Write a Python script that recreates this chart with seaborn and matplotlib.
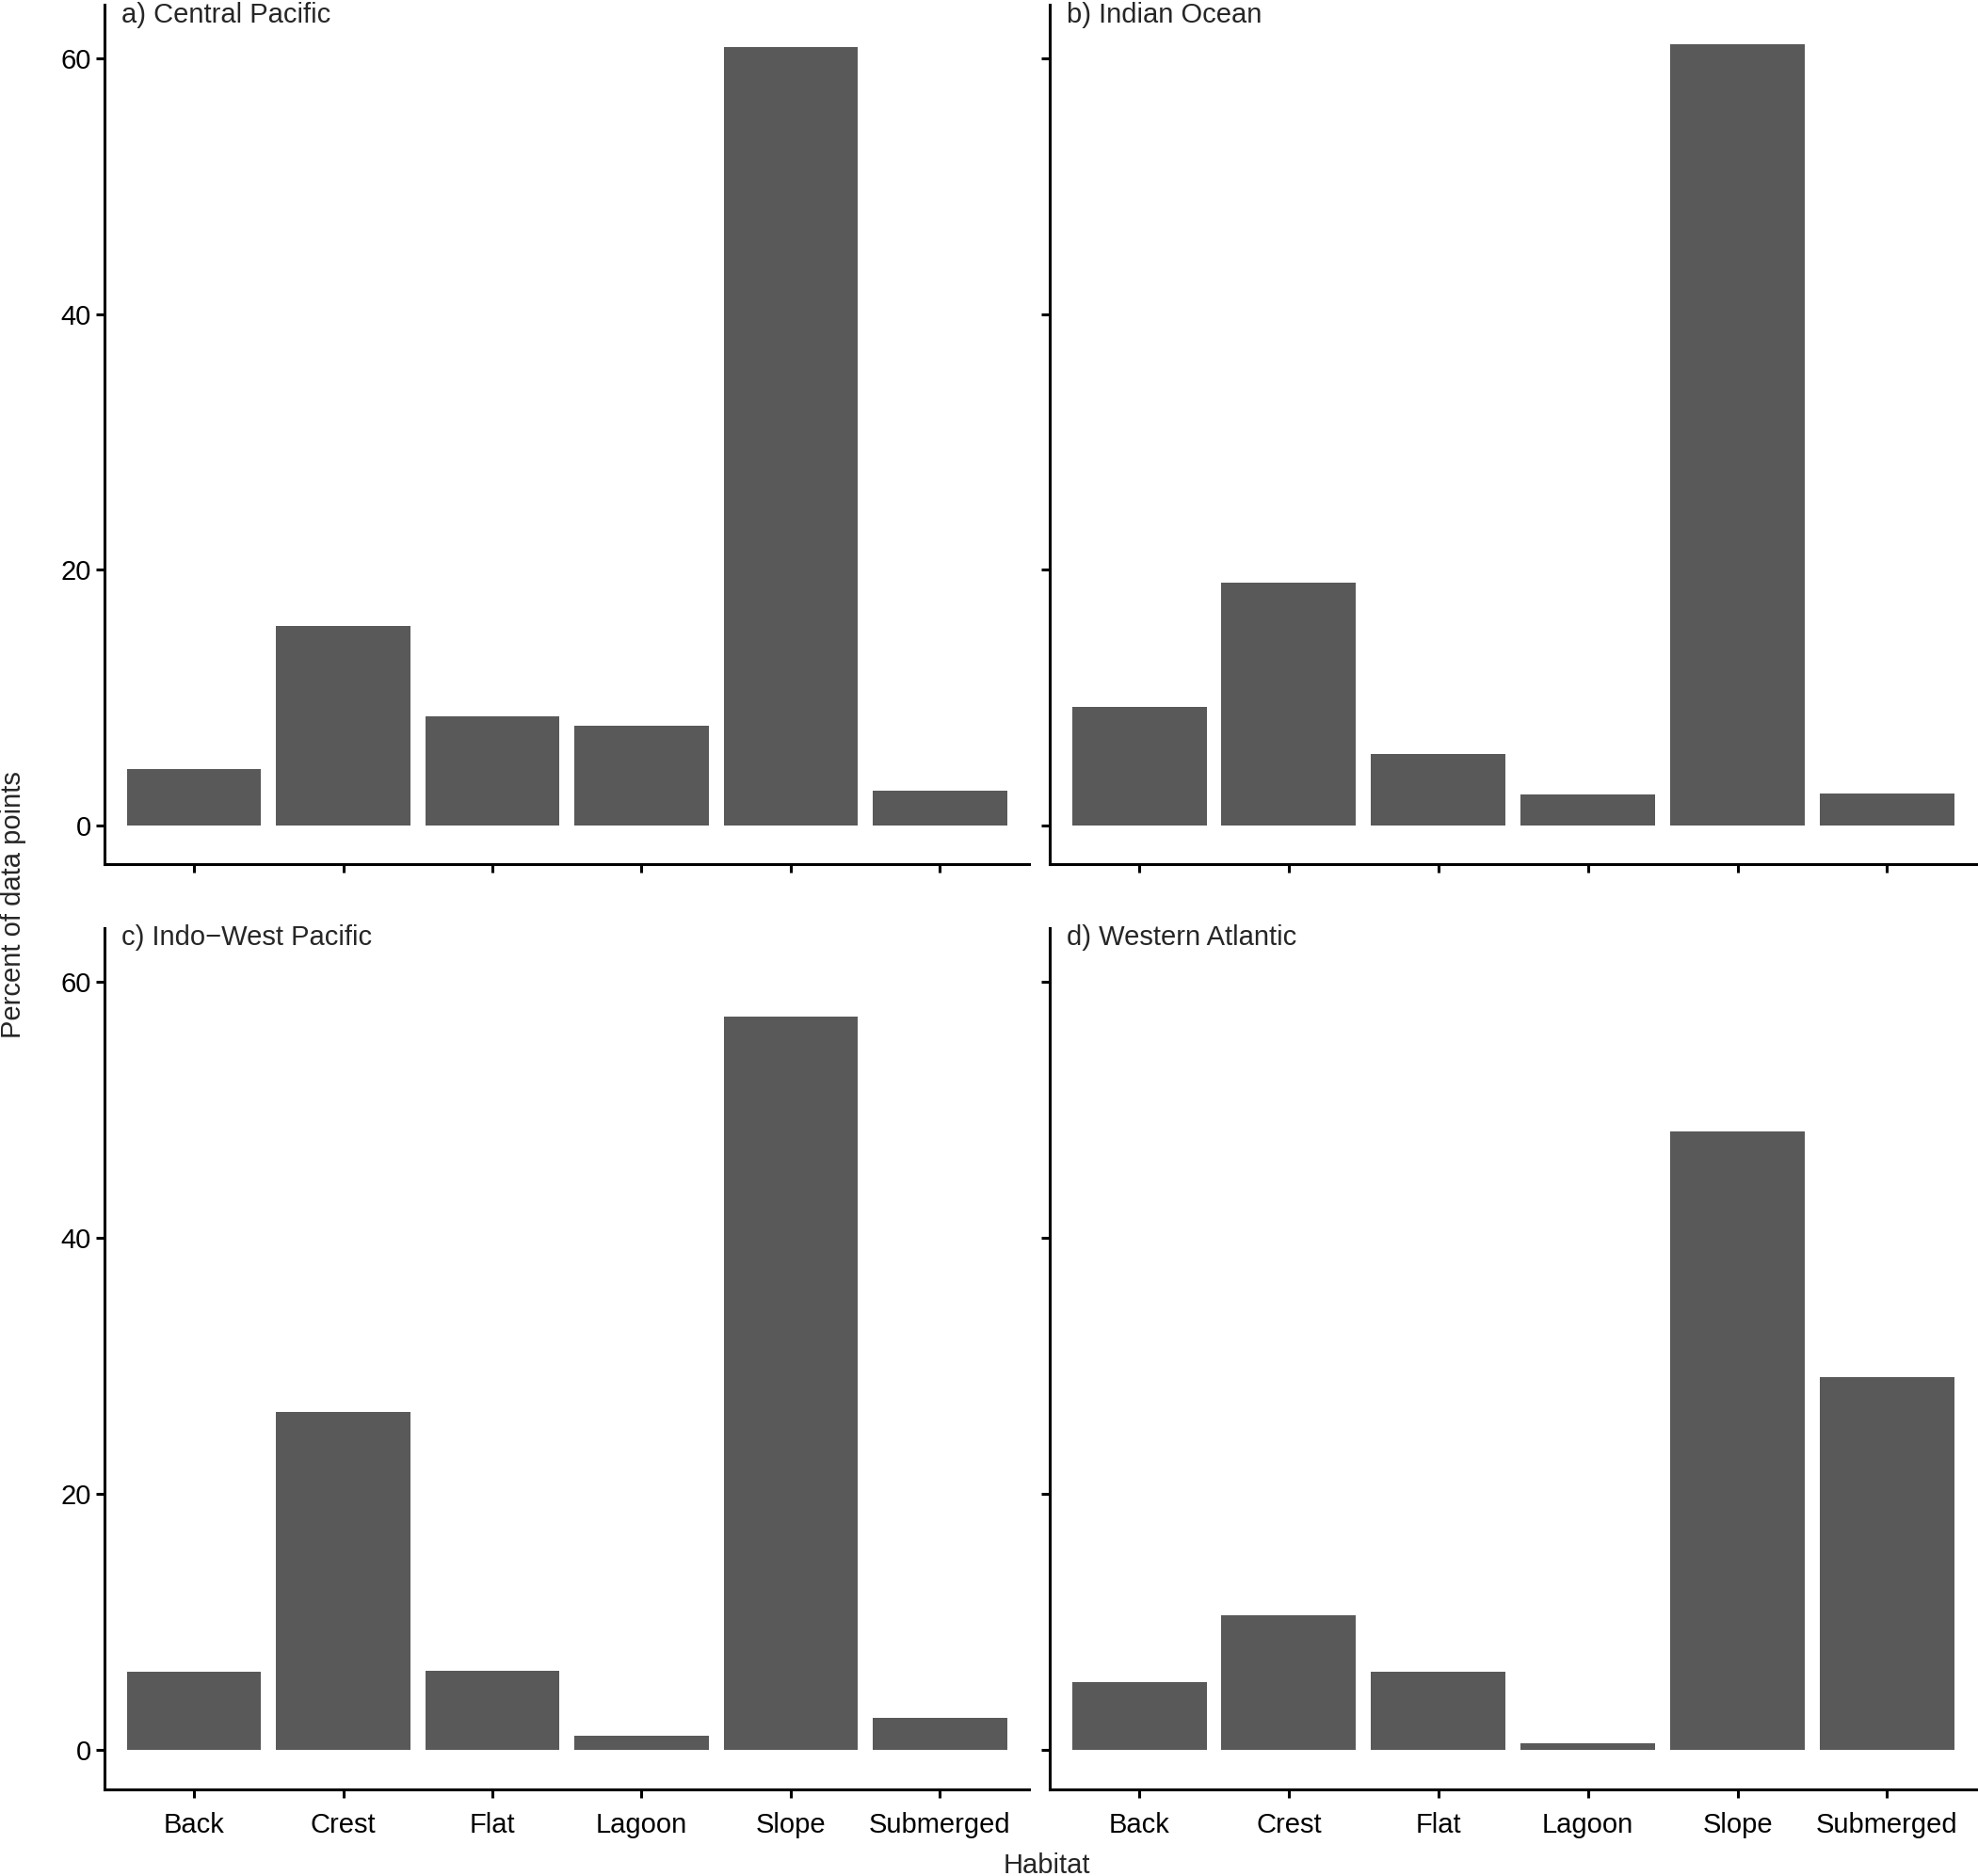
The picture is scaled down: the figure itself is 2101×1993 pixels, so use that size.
import matplotlib
matplotlib.use("Agg")
import numpy as np
import pandas as pd
import matplotlib.pyplot as plt
import seaborn as sns

habitats = ["Back", "Crest", "Flat", "Lagoon", "Slope", "Submerged"]
regions = ["a) Central Pacific", "b) Indian Ocean", "c) Indo\u2212West Pacific", "d) Western Atlantic"]
central_pacific = [4.4, 15.6, 8.5, 7.8, 60.9, 2.7]
indian_ocean = [9.3, 19.0, 5.6, 2.4, 61.1, 2.5]
indo_west_pacific = [6.1, 26.4, 6.2, 1.1, 57.3, 2.5]
western_atlantic = [5.3, 10.5, 6.1, 0.5, 48.3, 29.1]

sns.set_style("ticks")
plt.rcParams['font.family'] = ['Liberation Sans', 'DejaVu Sans']

rows = []
for region, vals in zip(regions, [central_pacific, indian_ocean, indo_west_pacific, western_atlantic]):
    for h, v in zip(habitats, vals):
        rows.append((region, h, v))
df = pd.DataFrame(rows, columns=['Region', 'Habitat', 'Percent'])

fig = plt.figure(figsize=(21.01, 19.93), dpi=100)
# panel positions (left, bottom, width, height)
positions = [
    [0.0529, 0.5393, 0.4675, 0.4580],
    [0.5306, 0.5393, 0.4688, 0.4580],
    [0.0529, 0.0464, 0.4675, 0.4590],
    [0.5306, 0.0464, 0.4688, 0.4590],
]

fs = 21
for i, (region, pos) in enumerate(zip(regions, positions)):
    ax = fig.add_axes(pos)
    sub = df[df['Region'] == region]
    sns.barplot(data=sub, x='Habitat', y='Percent', order=habitats, color='#595959',
                saturation=1, width=0.9, ax=ax, edgecolor='none')
    ax.set_xlim(-0.6, 5.6)
    ax.set_ylim(-3.05, 64.2)
    ax.set_yticks([0, 20, 40, 60])
    ax.set_xlabel('')
    ax.set_ylabel('')
    sns.despine(ax=ax)
    for s in ['left', 'bottom']:
        ax.spines[s].set_linewidth(2.2)
        ax.spines[s].set_color('black')
    ax.tick_params(axis='both', length=6.5, width=2.2, color='black', labelsize=fs, labelcolor='black')
    ax.tick_params(axis='y', pad=4)
    ax.tick_params(axis='x', pad=11)
    if i in (1, 3):
        ax.set_yticklabels([])
    if i in (0, 1):
        ax.set_xticklabels([])
    ax.text(0.018, 1.004, region, transform=ax.transAxes, ha='left', va='top', fontsize=fs)

fig.text(0.0065, 0.518, 'Percent of data points', rotation=90, ha='center', va='center', fontsize=fs)
fig.text(0.529, 0.0055, 'Habitat', ha='center', va='center', fontsize=fs)

fig.savefig('out.png', dpi=100)
